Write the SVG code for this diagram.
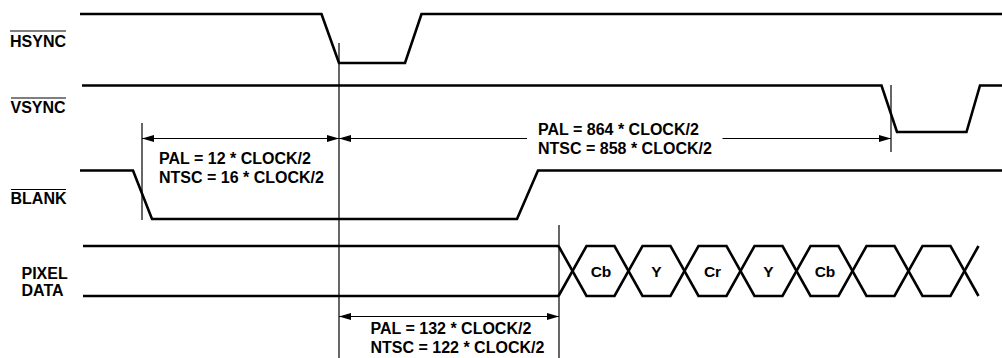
<svg xmlns="http://www.w3.org/2000/svg" width="1002" height="358" viewBox="0 0 1002 358">
<style>
.sig{fill:none;stroke:#000;stroke-width:2.6;stroke-linejoin:miter}
.thin{fill:none;stroke:#000;stroke-width:1.2}
.arr{fill:none;stroke:#000;stroke-width:1.2;marker-start:url(#ah);marker-end:url(#ah)}
text{font-family:"Liberation Sans",Arial,Helvetica,sans-serif;font-weight:bold;font-size:16px;fill:#000}
.cell{text-anchor:middle;font-size:15.5px}
</style>
<defs>
<marker id="ah" markerUnits="userSpaceOnUse" markerWidth="12" markerHeight="7" refX="12" refY="3.5" orient="auto-start-reverse" viewBox="0 0 12 7">
<path d="M0,0 L12,3.5 L0,7 z" fill="#000"/>
</marker>
</defs>
<g id="hsync">
<text x="10" y="46.7">HSYNC</text>
<line class="thin" x1="10" y1="31" x2="66" y2="31"/>
<path class="sig" d="M80,14 H321.5 L339,63 H405 L421.5,14 H1002"/>
</g>
<g id="vsync">
<text x="10.5" y="112.5">VSYNC</text>
<line class="thin" x1="11" y1="98" x2="66" y2="98"/>
<path class="sig" d="M82,85.5 H881.5 L897,132 H966.5 L980,85.5 H1002"/>
</g>
<g id="blank">
<text x="10.5" y="203.5">BLANK</text>
<line class="thin" x1="11" y1="189.5" x2="66" y2="189.5"/>
<path class="sig" d="M80,170.5 H133 L152,219 H517 L538,170.5 H1002"/>
</g>
<g id="pixeldata">
<text x="21.5" y="279">PIXEL</text>
<text x="21.5" y="296">DATA</text>
<path class="sig" d="M83,246 H559 M83,296 H559"/>
<polyline class="sig" points="558.5,246 586.5,296 614.5,296 642.5,246 670.5,246 698.5,296 726.5,296 754.5,246 782.5,246 810.5,296 838.5,296 866.5,246 894.5,246 922.5,296 950.5,296 978.5,246"/>
<polyline class="sig" points="558.5,296 586.5,246 614.5,246 642.5,296 670.5,296 698.5,246 726.5,246 754.5,296 782.5,296 810.5,246 838.5,246 866.5,296 894.5,296 922.5,246 950.5,246 978.5,296"/>
<text class="cell" x="601" y="277">Cb</text>
<text class="cell" x="656.5" y="277">Y</text>
<text class="cell" x="712.5" y="277">Cr</text>
<text class="cell" x="768.5" y="277">Y</text>
<text class="cell" x="825" y="277">Cb</text>
</g>
<g id="connectors">
<line class="thin" x1="339" y1="43" x2="339" y2="358"/>
<line class="thin" x1="891" y1="85" x2="891" y2="152"/>
<line class="thin" x1="142" y1="123" x2="142" y2="220"/>
<line class="thin" x1="559" y1="225" x2="559" y2="358"/>
<path class="arr" d="M142,138.5 H339"/>
<path class="thin" style="marker-start:url(#ah)" d="M339,138.5 H527"/>
<path class="thin" style="marker-end:url(#ah)" d="M722.5,138.5 H891"/>
<path class="arr" d="M339,316.5 H559"/>
</g>
<g id="labels">
<text x="159" y="164">PAL = 12 * CLOCK/2</text>
<text x="159" y="183.3">NTSC = 16 * CLOCK/2</text>
<text x="538" y="135">PAL = 864 * CLOCK/2</text>
<text x="538" y="154.3">NTSC = 858 * CLOCK/2</text>
<text x="370.5" y="333.5">PAL = 132 * CLOCK/2</text>
<text x="370.5" y="352.5">NTSC = 122 * CLOCK/2</text>
</g>
</svg>
